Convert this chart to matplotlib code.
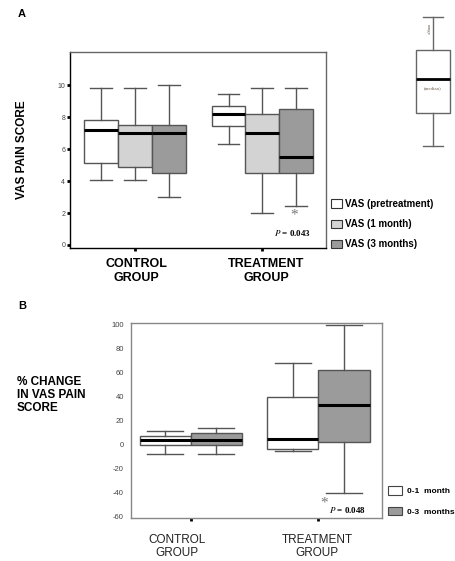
import matplotlib
matplotlib.use("Agg")
import matplotlib.pyplot as plt
from matplotlib.patches import Patch

plt.rcParams['font.family'] = ['Liberation Sans', 'DejaVu Sans']
plt.rcParams['mathtext.fontset'] = 'stix'

W, H = 455, 561

# ---------------- data ----------------
groups = ["CONTROL\nGROUP", "TREATMENT\nGROUP"]

# Panel A: VAS pain score (pretreatment, 1 month, 3 months) per group
a_series = ["VAS (pretreatment)", "VAS (1 month)", "VAS (3 months)"]
a_whislo = [[4.05, 4.05, 3.0], [6.3, 2.0, 2.45]]
a_q1     = [[5.1, 4.9, 4.5], [7.45, 4.5, 4.5]]
a_med    = [[7.2, 7.0, 7.0], [8.2, 7.0, 5.5]]
a_q3     = [[7.85, 7.5, 7.5], [8.7, 8.2, 8.5]]
a_whishi = [[9.8, 9.8, 10.0], [9.45, 9.8, 9.8]]
a_yticks = [0, 2, 4, 6, 8, 10]
a_pvalue = "0.043"

# Panel B: % change in VAS pain score (0-1 month, 0-3 months) per group
b_series = ["0-1  month", "0-3  months"]
b_whislo = [[-7.5, -8.0], [-5.0, -40.0]]
b_q1     = [[-0.5, -0.5], [-3.5, 2.5]]
b_med    = [[4.0, 4.0], [4.5, 33.0]]
b_q3     = [[7.0, 9.5], [40.0, 62.5]]
b_whishi = [[11.0, 14.0], [68.5, 100.0]]
b_yticks = [-60, -40, -20, 0, 20, 40, 60, 80, 100]
b_pvalue = "0.048"

# key box (illustrative)
key_stats = dict(whislo=0.6, q1=2.9, med=5.25, q3=7.25, whishi=9.55)

# ---------------- style ----------------
a_colors = ["white", "#d3d3d3", "#9b9b9b"]
b_colors = ["white", "#9b9b9b"]
edge = "#555555"


def px(x, y):
    return x / W, 1 - y / H


def axrect(l, t, r, b):
    return [l / W, 1 - b / H, (r - l) / W, (b - t) / H]


fig = plt.figure(figsize=(W / 100, H / 100), dpi=100)

def draw_boxes(ax, whislo, q1, med, q3, whishi, colors, offsets, width, capw):
    for g in range(len(whislo)):
        for s in range(len(whislo[g])):
            st = [dict(whislo=whislo[g][s], q1=q1[g][s], med=med[g][s],
                       q3=q3[g][s], whishi=whishi[g][s], fliers=[])]
            ax.bxp(st, positions=[g + 1 + offsets[s]], widths=[width],
                   capwidths=[capw], patch_artist=True, showfliers=False,
                   boxprops=dict(facecolor=colors[s], edgecolor=edge, linewidth=1.0),
                   medianprops=dict(color="black", linewidth=2.2),
                   whiskerprops=dict(color=edge, linewidth=1.0),
                   capprops=dict(color=edge, linewidth=1.0),
                   manage_ticks=False)

# ---------------- Panel A ----------------
axA = fig.add_axes(axrect(70, 52, 326, 248))
draw_boxes(axA, a_whislo, a_q1, a_med, a_q3, a_whishi, a_colors,
           [-0.265, 0.0, 0.265], 0.265, 0.17)
axA.set_xlim(0.49, 2.5)
axA.set_ylim(-0.19, 12.08)
axA.set_yticks(a_yticks)
axA.set_yticklabels([str(v) for v in a_yticks], fontsize=5, color="#444444")
axA.set_xticks([1, 2])
axA.set_xticklabels([])
axA.tick_params(axis='both', length=2, width=2, color="black", pad=1.5)
for sp in axA.spines.values():
    sp.set_color("#666666")
    sp.set_linewidth(1.0)
axA.spines['left'].set_color("black")
axA.spines['bottom'].set_color("black")
axA.set_ylabel("VAS PAIN SCORE", fontsize=8.5, fontweight="bold")
axA.yaxis.set_label_coords(-0.165, 0.5)

fig.text(*px(136, 271), groups[0], ha="center", va="center", fontsize=9,
         fontweight="bold", linespacing=1.3)
fig.text(*px(266, 271), groups[1], ha="center", va="center", fontsize=9,
         fontweight="bold", linespacing=1.3)
fig.text(*px(18, 14), "A", ha="left", va="center", fontsize=8, fontweight="bold")

fig.text(*px(294, 215), "*", ha="center", va="center", fontsize=11,
         color="#777777", family="Liberation Serif")
fig.text(*px(293, 233), r"$P$ = " + a_pvalue, ha="center", va="center",
         fontsize=6.5, fontweight="bold", family="Liberation Serif")

handlesA = [Patch(facecolor=c, edgecolor="#333333", linewidth=0.8) for c in a_colors]
fig.legend(handlesA, a_series, loc="upper left", bbox_to_anchor=px(331, 199),
           frameon=False, borderpad=0, borderaxespad=0,
           prop=dict(weight="bold", size=7), handlelength=1.15, handleheight=1.0,
           handletextpad=0.25, labelspacing=1.05)

# key box
axK = fig.add_axes(axrect(410.4, 10, 455.4, 155))
axK.bxp([dict(key_stats, fliers=[])], positions=[1], widths=[0.76], capwidths=[0.44],
        patch_artist=True, showfliers=False,
        boxprops=dict(facecolor="white", edgecolor="#666666", linewidth=1.0),
        medianprops=dict(color="black", linewidth=2.0),
        whiskerprops=dict(color="#666666", linewidth=1.0),
        capprops=dict(color="#666666", linewidth=1.0), manage_ticks=False)
axK.set_xlim(0.5, 1.5)
axK.set_ylim(0, 10)
axK.axis("off")
fig.text(*px(428, 30), "range", rotation=-90, ha="center", va="center",
         fontsize=3.5, color="#6a5a4a", family="Liberation Serif")
fig.text(*px(433, 88), "(median)", ha="center", va="center",
         fontsize=3.5, color="#6a5a4a", family="Liberation Serif")

# ---------------- Panel B ----------------
axB = fig.add_axes(axrect(130.7, 322.7, 382.3, 518.3))
draw_boxes(axB, b_whislo, b_q1, b_med, b_q3, b_whishi, b_colors,
           [-0.2, 0.2], 0.4, 0.28)
axB.set_xlim(0.53, 2.5)
axB.set_ylim(-61.5, 101.8)
axB.set_yticks(b_yticks)
axB.set_yticklabels([str(v) for v in b_yticks], fontsize=5.5, color="#444444")
axB.tick_params(axis='y', length=0, pad=5)
axB.set_xticks([1, 2])
axB.set_xticklabels([])
axB.tick_params(axis='x', length=2, width=2, color="black", pad=1)
for sp in axB.spines.values():
    sp.set_color("#888888")
    sp.set_linewidth(1.0)

fig.text(*px(177, 546.5), groups[0], ha="center", va="center", fontsize=8.5,
         linespacing=1.2, color="#222222")
fig.text(*px(317, 546.5), groups[1], ha="center", va="center", fontsize=8.5,
         linespacing=1.2, color="#222222")
fig.text(*px(18, 306), "B", ha="left", va="center", fontsize=8, fontweight="bold")
fig.text(*px(17, 395), "% CHANGE\nIN VAS PAIN\nSCORE", ha="left", va="center",
         fontsize=8.5, fontweight="bold", linespacing=1.15)

fig.text(*px(324, 503), "*", ha="center", va="center", fontsize=11,
         color="#777777", family="Liberation Serif")
fig.text(*px(329, 510), r"$P$ = " + b_pvalue, ha="left", va="center",
         fontsize=6.5, fontweight="bold", family="Liberation Serif")

handlesB = [Patch(facecolor=c, edgecolor="#444444", linewidth=0.8) for c in b_colors]
fig.legend(handlesB, b_series, loc="upper left", bbox_to_anchor=px(388, 486),
           frameon=False, borderpad=0, borderaxespad=0,
           prop=dict(weight="bold", size=6), handlelength=1.65, handleheight=1.2,
           handletextpad=0.6, labelspacing=1.4)

fig.savefig("out.png", dpi=100)
